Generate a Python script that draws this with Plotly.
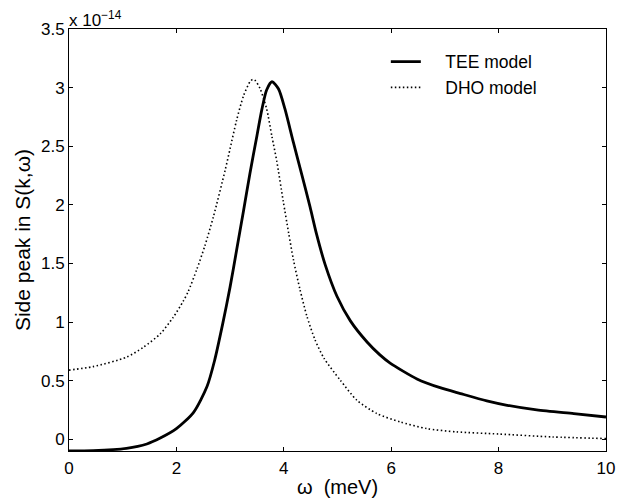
import plotly.graph_objects as go

# values in units of 1e-14 (as read on the y axis)
tee_x = [0, 0.45, 1.07, 1.45, 1.70, 2.0, 2.32, 2.57, 2.71, 2.86, 3.0, 3.12, 3.25, 3.37, 3.50, 3.59, 3.68,
         3.78, 3.90, 4.02, 4.18, 4.34, 4.49, 4.61, 4.77, 4.99, 5.24, 5.55, 5.79, 5.98, 6.48, 6.91, 7.29,
         7.78, 8.16, 8.71, 9.40, 10.0]
tee_y = [-0.1, -0.097, -0.077, -0.04, 0.01, 0.09, 0.23, 0.45, 0.67, 0.98, 1.30, 1.61, 1.95, 2.27, 2.59, 2.81, 2.98,
         3.05, 2.99, 2.82, 2.53, 2.25, 1.98, 1.75, 1.49, 1.22, 1.01, 0.83, 0.72, 0.65, 0.515, 0.44, 0.39,
         0.328, 0.29, 0.25, 0.218, 0.19]

dho_x = [0, 0.45, 1.07, 1.385, 1.70, 1.94, 2.13, 2.22, 2.38, 2.53, 2.69, 2.91, 3.0, 3.12, 3.25, 3.37, 3.42, 3.47,
         3.56, 3.68, 3.78, 3.87, 3.99, 4.09, 4.18, 4.30, 4.43, 4.58, 4.75, 5.05, 5.36, 5.73, 6.17, 6.66, 7.22,
         8.0, 9.0, 10.0]
dho_y = [0.59, 0.62, 0.70, 0.785, 0.90, 1.04, 1.18, 1.26, 1.45, 1.65, 1.90, 2.30, 2.48, 2.72, 2.93, 3.05, 3.07, 3.06,
         2.99, 2.82, 2.58, 2.37, 2.03, 1.76, 1.53, 1.28, 1.05, 0.85, 0.69, 0.505, 0.334, 0.22, 0.148, 0.091, 0.063,
         0.045, 0.02, 0.006]

x_ticks = [0, 2, 4, 6, 8, 10]
y_ticks = [0, 0.5, 1, 1.5, 2, 2.5, 3, 3.5]
y_tick_text = ["0", "0.5", "1", "1.5", "2", "2.5", "3", "3.5"]

FONT = "Liberation Sans, Arial, Helvetica, sans-serif"
NB = "\u00a0" * 4

fig = go.Figure()
fig.add_trace(go.Scatter(x=tee_x, y=tee_y, mode="lines", name=NB + "TEE model",
                         line=dict(color="black", width=2.8, shape="spline", smoothing=0.7)))
fig.add_trace(go.Scatter(x=dho_x, y=dho_y, mode="lines", name=NB + "DHO model",
                         line=dict(color="black", width=1.6, dash="1.5px,2.5px", shape="spline", smoothing=0.7)))

axis_common = dict(showgrid=False, zeroline=False, showline=True, linecolor="black", linewidth=1,
                   mirror="allticks", ticks="inside", ticklen=4, tickcolor="black", automargin=False,
                   tickfont=dict(family=FONT, size=17, color="black"))

fig.update_layout(
    width=638, height=502,
    margin=dict(l=61, r=40, t=21, b=59),
    paper_bgcolor="white", plot_bgcolor="white",
    font=dict(family=FONT, size=17, color="black"),
    xaxis=dict(range=[0, 10], tickvals=x_ticks, ticklabelstandoff=2, **axis_common,
               title=dict(text="ω  (meV)", font=dict(family=FONT, size=20), standoff=2)),
    yaxis=dict(range=[-0.1, 3.5], tickvals=y_ticks, ticktext=y_tick_text, **axis_common,
               title=dict(text="Side peak in S(k,ω)", font=dict(family=FONT, size=21), standoff=4)),
    legend=dict(x=0.59, y=0.965, xanchor="left", yanchor="top", bgcolor="rgba(0,0,0,0)",
                font=dict(family=FONT, size=17.5), tracegroupgap=0),
    showlegend=True,
)

fig.add_annotation(xref="paper", yref="paper", x=0, y=1.0, xanchor="left", yanchor="bottom",
                   text="x 10<sup>−14</sup>", showarrow=False,
                   font=dict(family=FONT, size=17, color="black"), xshift=-2, yshift=-3)

fig.write_html("out.html")
